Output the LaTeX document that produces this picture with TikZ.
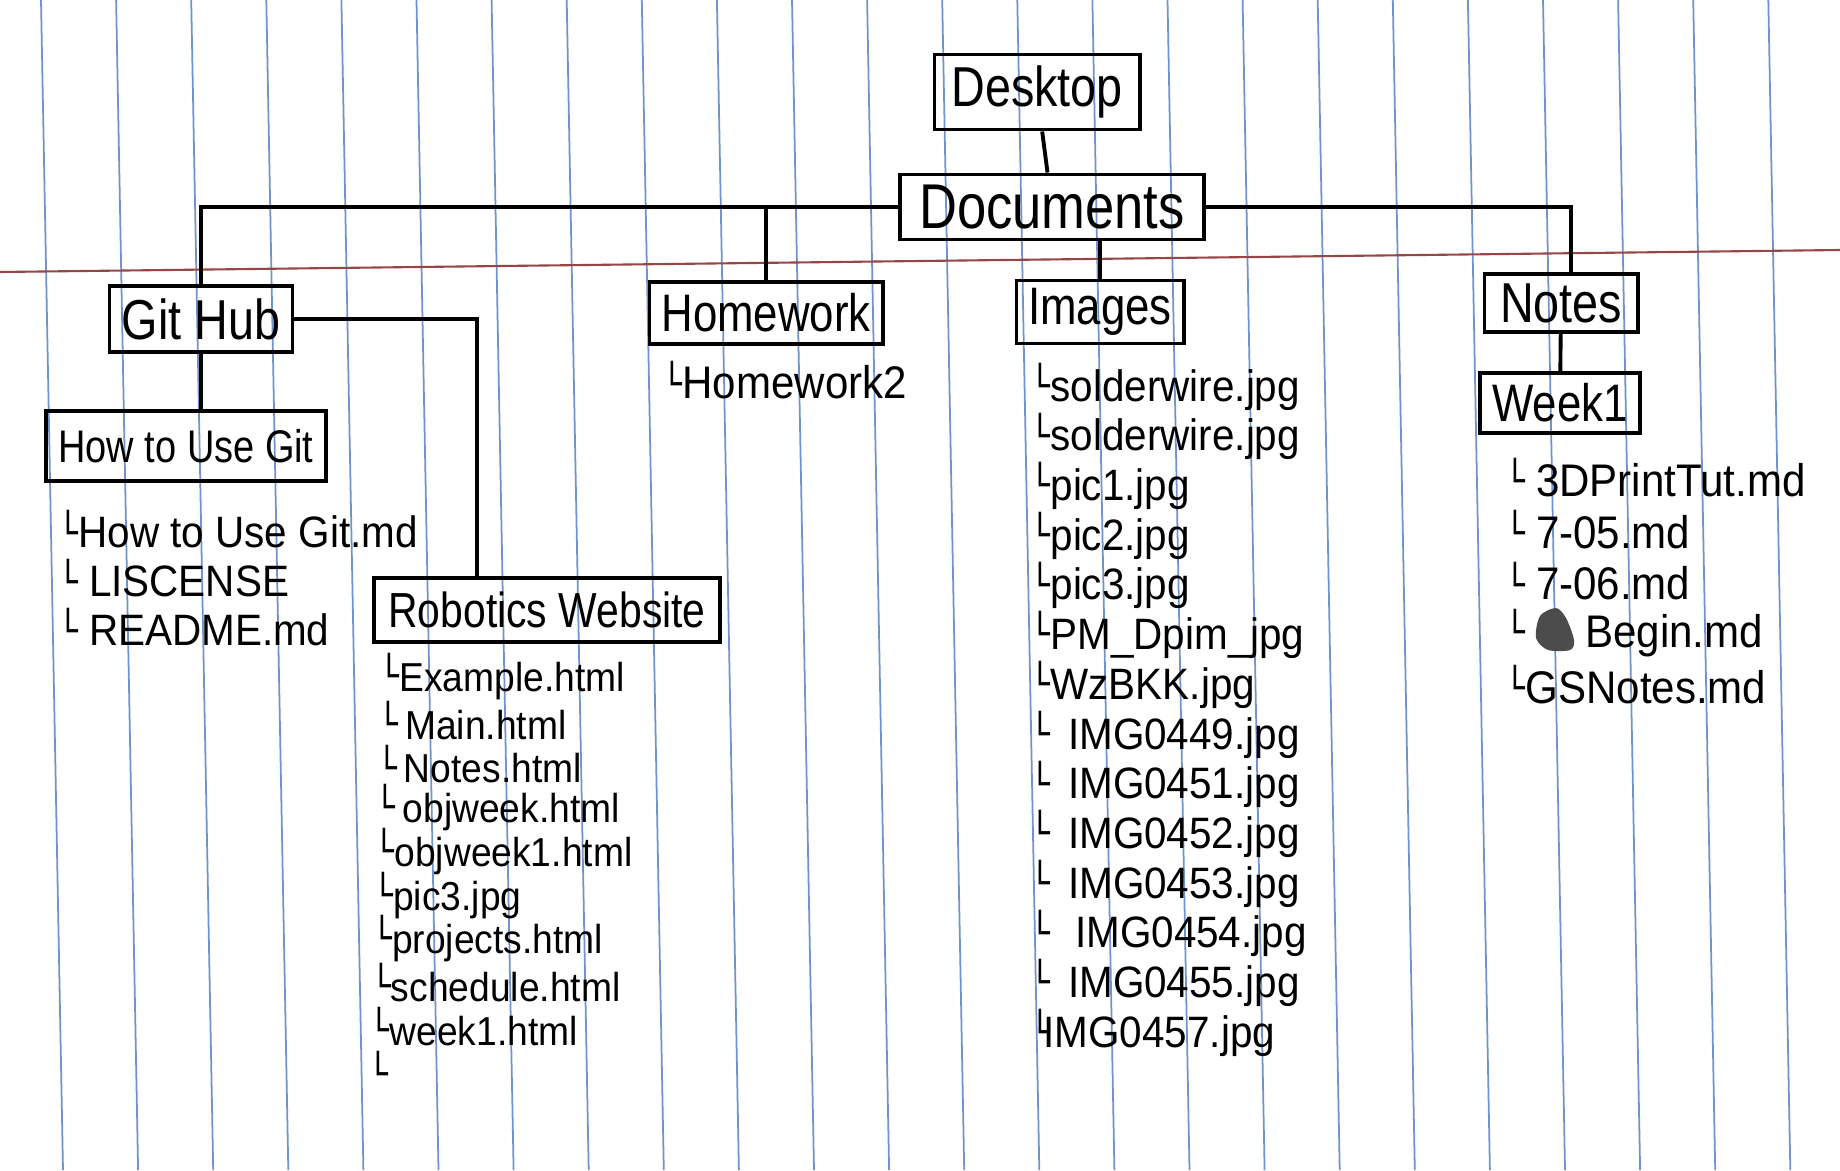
\documentclass[tikz,border=0pt]{standalone}
\usepackage{fontspec}
\setmainfont{Liberation Sans}[FakeStretch=0.83]
\newfontfamily\filefont{Liberation Sans}[FakeStretch=0.92]
\newfontfamily\treefont{DejaVu Sans}[FakeStretch=0.85]
\newcommand{\branch}{\raisebox{0.5pt}{\treefont\fontsize{11}{11}\selectfont └}}
\definecolor{ruleblue}{RGB}{112,146,206}
\definecolor{marginred}{RGB}{150,70,70}
\tikzset{
  folder/.style={draw, line width=1.1pt, inner sep=0pt, font=\fontsize{16}{16}\selectfont},
  file/.style={anchor=west, inner sep=0pt, font=\filefont\fontsize{12.5}{12.5}\selectfont},
  link/.style={line width=1.1pt},
}
\begin{document}
\begin{tikzpicture}[x=0.01cm, y=-0.01cm]

  % Papier
  \fill[white] (0,0) rectangle (1840,1170);
  \useasboundingbox (0,0) rectangle (1840,1170);
  \foreach \k in {0,...,23} {
    \draw[ruleblue, line width=0.5pt] ({41+75.1*\k},0) -- ({63+75.1*\k},1170);
  }
  \draw[marginred, line width=0.6pt] (0,272) -- (1840,250);

  % Ordner
  \node[folder, minimum width=2.05cm, minimum height=0.75cm] (desk) at (1037,92) {Desktop};
  \node[folder, minimum width=3.03cm, minimum height=0.65cm, font=\fontsize{18}{18}\selectfont] (docs) at (1052,207) {Documents};
  \node[folder, minimum width=1.83cm, minimum height=0.66cm] (github) at (201,319) {Git Hub};
  \node[folder, minimum width=2.33cm, minimum height=0.62cm, font=\fontsize{15}{15}\selectfont] (hw) at (766,313) {Homework};
  \node[folder, minimum width=1.67cm, minimum height=0.63cm, font=\fontsize{15}{15}\selectfont] (images) at (1100,312) {Images};
  \node[folder, minimum width=1.53cm, minimum height=0.58cm] (notes) at (1561,303) {Notes};
  \node[folder, minimum width=2.80cm, minimum height=0.70cm, font=\fontsize{13}{13}\selectfont] (howto) at (186,446) {How to Use Git};
  \node[folder, minimum width=3.46cm, minimum height=0.64cm, font=\fontsize{14}{14}\selectfont] (robo) at (547,610) {Robotics Website};
  \node[folder, minimum width=1.60cm, minimum height=0.60cm, font=\fontsize{15}{15}\selectfont] (week1) at (1560,403) {Week1};

  % Verbindungen
  \draw[link] (desk) -- (docs);
  \draw[link] (docs.west) -| (github.north);
  \draw[link] (hw.north) -- (hw.north |- docs.west);
  \draw[link] (images.north) -- (images.north |- docs.south);
  \draw[link] (docs.east) -| ([xshift=0.1cm]notes.north);
  \draw[link] (github.south) -- (github.south |- howto.north);
  \draw[link] (github.east) -| ([xshift=-0.7cm]robo.north);
  \draw[link] (notes) -- (week1);

  % Dateien
  \foreach \t [count=\i] in {How to Use Git.md, \hspace{3pt}LISCENSE, \hspace{3pt}README.md} {
    \node[file] (git\i) at (58,{480+49*\i}) {\branch\t};
  }
  \node[file, font=\filefont\fontsize{13}{13}\selectfont] (hw1) at (662,380) {\branch Homework2};
  \foreach \t [count=\i] in {Example.html, \hspace{2pt}Main.html, \hspace{2pt}Notes.html,
      \hspace{2pt}objweek.html, objweek1.html, pic3.jpg, projects.html, schedule.html,
      week1.html, {}} {
    \node[file, font=\filefont\fontsize{11.5}{11.5}\selectfont] (rw\i) at ({380-1.2*\i},{633+43.7*\i}) {\branch\t};
  }
  \foreach \t [count=\i] in {solderwire.jpg, solderwire.jpg, pic1.jpg, pic2.jpg, pic3.jpg,
      PM\_Dpim\_jpg, WzBKK.jpg, \hspace{5pt}IMG0449.jpg, \hspace{5pt}IMG0451.jpg,
      \hspace{5pt}IMG0452.jpg, \hspace{5pt}IMG0453.jpg, \hspace{7pt}IMG0454.jpg,
      \hspace{5pt}IMG0455.jpg, \hspace{-2pt}IMG0457.jpg} {
    \node[file] (img\i) at (1030,{337+49.7*\i}) {\branch\t};
  }
  \foreach \t [count=\i] in {\hspace{3pt}3DPrintTut.md, \hspace{3pt}7-05.md, \hspace{3pt}7-06.md,
      \hspace{17pt}Begin.md, GSNotes.md} {
    \node[file, font=\filefont\fontsize{13}{13}\selectfont] (wk\i) at (1505,{426+51.7*\i}) {\branch\t};
  }
  % Gekritzel vor Begin.md
  \fill[black!70] plot[smooth cycle] coordinates {(1540,616) (1556,608) (1566,618) (1574,640) (1570,650) (1548,650) (1536,638)};

\end{tikzpicture}
\end{document}
